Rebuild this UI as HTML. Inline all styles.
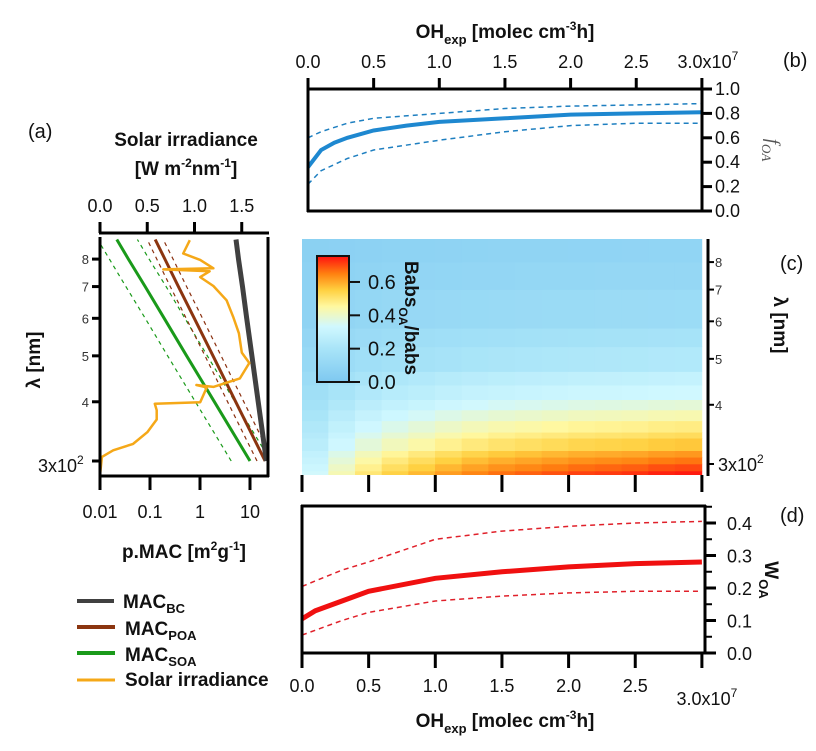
<!DOCTYPE html>
<html><head><meta charset="utf-8">
<style>
html,body{margin:0;padding:0;background:#fff;}
svg{display:block;font-family:"Liberation Sans",Arial,sans-serif;}
</style></head>
<body>
<svg id="fig" width="816" height="751" viewBox="0 0 816 751" xmlns="http://www.w3.org/2000/svg">
<defs>
<linearGradient id="cbgrad" x1="0" y1="1" x2="0" y2="0">
<stop offset="0" stop-color="#7ec8f0"/>
<stop offset="0.26" stop-color="#a8e4f8"/>
<stop offset="0.44" stop-color="#d0f8ff"/>
<stop offset="0.6" stop-color="#fff8a0"/>
<stop offset="0.73" stop-color="#ffd040"/>
<stop offset="0.86" stop-color="#ff8010"/>
<stop offset="1" stop-color="#ff1010"/>
</linearGradient>
</defs>
<g id="gA"></g>
<g id="gB"></g>
<g id="gC"></g>
<g id="gD"></g>
</svg>
<script>
// ---------- Panel (a) data ----------
const lambdaPts = [300,400,500,600,700,800,880];
const macBC = [21.3,14.6,10.9,8.6,7.07,5.9,5.25];
const macPOA = [20,5.18,1.82,0.77,0.37,0.199,0.127];
const macPOAlo = [13.8,3.57,1.26,0.53,0.255,0.137,0.088];
const macPOAhi = [29,7.5,2.64,1.12,0.54,0.29,0.184];
const macSOA = [10,1.94,0.54,0.192,0.080,0.037,0.0217];
const macSOAlo = [4.2,0.81,0.225,0.08,0.033,0.0154,0.009];
const macSOAhi = [26,5.0,1.4,0.5,0.21,0.096,0.056];
const solarLambda = [280,306,316,326,345,367,384,396,399,429,434,430,448,483,508,558,604,655,702,733,754,761,765,797,822,877];
const solarIrr = [0,0.02,0.14,0.35,0.5,0.6,0.6,0.58,1.06,1.13,1.02,1.2,1.48,1.58,1.5,1.47,1.41,1.34,1.2,1.06,1.16,0.67,1.2,1.06,0.88,0.95];
const lamTicks = [300,400,500,600,700,800];
const lamTickLabels = ["","4","5","6","7","8"];
const solarTicks = [0,0.5,1.0,1.5];
const solarTickLabels = ["0.0","0.5","1.0","1.5"];
const macTicks = [0.01,0.1,1,10];
const macTickLabels = ["0.01","0.1","1","10"];
// ---------- Panel (b) data ----------
const ohB = [0,0.1,0.2,0.3,0.5,0.75,1.0,1.5,2.0,2.5,3.0];
const fOA = [0.36,0.5,0.56,0.6,0.66,0.70,0.73,0.76,0.79,0.80,0.81];
const ohBhi = [0,0.1,0.3,0.5,1.0,1.5,2.0,2.5,3.0];
const fOAhi = [0.6,0.65,0.72,0.76,0.8,0.84,0.86,0.87,0.88];
const fOAlo = [0.22,0.33,0.43,0.5,0.58,0.65,0.7,0.72,0.72];
const ohTicks = [0,0.5,1.0,1.5,2.0,2.5,3.0];
const ohTickLabels = ["0.0","0.5","1.0","1.5","2.0","2.5","3.0x10"];
const fTicks = [0,0.2,0.4,0.6,0.8,1.0];
const fTickLabels = ["0.0","0.2","0.4","0.6","0.8","1.0"];
// ---------- Panel (c) data ----------
const heatRowLambda = [280,290,300,310,320,340,350,370,390,410,440,470,530,580,700,800,900];
const heatRowMax = [0.74,0.70,0.66,0.62,0.56,0.52,0.48,0.43,0.38,0.33,0.29,0.23,0.19,0.14,0.11,0.09];
const heatColShape = [0.42,0.55,0.65,0.72,0.77,0.82,0.86,0.89,0.91,0.93,0.95,0.96,0.97,0.99,1.0];
const cbTicks = [0,0.2,0.4,0.6];
const cbTickLabels = ["0.0","0.2","0.4","0.6"];
// ---------- Panel (d) data ----------
const ohD = [0,0.1,0.3,0.5,1.0,1.5,2.0,2.5,3.0];
const wOA = [0.105,0.13,0.16,0.19,0.23,0.25,0.265,0.275,0.28];
const ohDb = [0,0.3,0.5,1.0,1.5,2.0,2.5,3.0];
const wOAhi = [0.205,0.255,0.28,0.35,0.375,0.39,0.40,0.405];
const wOAlo = [0.055,0.10,0.125,0.16,0.175,0.185,0.19,0.19];
const wTicks = [0,0.1,0.2,0.3,0.4];
const wTickLabels = ["0.0","0.1","0.2","0.3","0.4"];

const NS="http://www.w3.org/2000/svg";
function mk(parent,tag,attrs,text){const e=document.createElementNS(NS,tag);for(const k in attrs)e.setAttribute(k,attrs[k]);if(text!==undefined)e.textContent=text;parent.appendChild(e);return e;}
function pathFrom(xs,ys,fx,fy){return xs.map((v,i)=>(i?"L":"M")+fx(v).toFixed(1)+","+fy(ys[i]).toFixed(1)).join("");}

// ===== Panel A =====
const gA=document.getElementById('gA');
const ax=m=>100+50*(Math.log10(m)+2);
const ay=l=>461-474*Math.log10(l/300);
const sx=s=>100+94.5*s;
let clipA=mk(document.querySelector('defs'),'clipPath',{id:'clipA'});mk(clipA,'rect',{x:100,y:237,width:168,height:239});
const ga=mk(gA,'g',{'clip-path':'url(#clipA)'});

function aLine(vals,color,w,dash,name){const p=mk(ga,'path',{d:pathFrom(vals,lambdaPts,ax,ay),fill:'none',stroke:color,'stroke-width':w});if(dash)p.setAttribute('stroke-dasharray',dash);

}
aLine(macSOAlo,'#1a9a1a',1.2,'4,4','soa-lower');
aLine(macSOAhi,'#1a9a1a',1.2,'4,4','soa-upper');
aLine(macPOAlo,'#8b3010',1.2,'4,4','poa-lower');
aLine(macPOAhi,'#8b3010',1.2,'4,4','poa-upper');
aLine(macSOA,'#1a9a1a',3,null,'soa-line');
aLine(macPOA,'#8b3510',3,null,'poa-line');
aLine(macBC,'#404040',5,null,'bc-line');
{const p=mk(ga,'path',{d:pathFrom(solarIrr,solarLambda,sx,ay),fill:'none',stroke:'#f5a818','stroke-width':2.5,'stroke-linejoin':'round'});

}
mk(gA,'line',{x1:100,y1:237,x2:100,y2:477,stroke:'#000','stroke-width':3});
mk(gA,'line',{x1:268,y1:237,x2:268,y2:477,stroke:'#000','stroke-width':3});
mk(gA,'line',{x1:99,y1:476,x2:269,y2:476,stroke:'#000','stroke-width':3});
mk(gA,'line',{x1:99,y1:233,x2:269,y2:233,stroke:'#000','stroke-width':3});
solarTicks.forEach((t,i)=>{mk(gA,'line',{x1:sx(t),y1:222,x2:sx(t),y2:233,stroke:'#000','stroke-width':3});
const tx=mk(gA,'text',{x:sx(t),y:212,'font-size':18,'text-anchor':'middle',fill:'#111'},solarTickLabels[i]);

});
macTicks.forEach((t,i)=>{mk(gA,'line',{x1:ax(t),y1:476,x2:ax(t),y2:490,stroke:'#000','stroke-width':3});
const tx=mk(gA,'text',{x:ax(t),y:518,'font-size':18,'text-anchor':'middle',fill:'#111'},macTickLabels[i]);

});
lamTicks.forEach((t,i)=>{mk(gA,'line',{x1:92,y1:ay(t),x2:100,y2:ay(t),stroke:'#000','stroke-width':3});
if(lamTickLabels[i]){const tx=mk(gA,'text',{x:89,y:ay(t)+5,'font-size':13,'text-anchor':'end',fill:'#333'},lamTickLabels[i]);

}});

// ===== Panel B =====
const gB=document.getElementById('gB');
const bx=o=>308+131.3*o;
const by=f=>211-122*f;
const pb=[[fOAhi,ohBhi,'5,4',1.5,'foa-upper'],[fOAlo,ohBhi,'5,4',1.5,'foa-lower']];
pb.forEach(a=>{const p=mk(gB,'path',{d:pathFrom(a[1],a[0],bx,by),fill:'none',stroke:'#1e7fc0','stroke-width':a[3],'stroke-dasharray':a[2]});

});
{const p=mk(gB,'path',{d:pathFrom(ohB,fOA,bx,by),fill:'none',stroke:'#1e88d0','stroke-width':4});

}
mk(gB,'line',{x1:308,y1:88,x2:308,y2:212,stroke:'#000','stroke-width':3});
mk(gB,'line',{x1:307,y1:211,x2:702,y2:211,stroke:'#000','stroke-width':3});
mk(gB,'line',{x1:307,y1:89,x2:703,y2:89,stroke:'#000','stroke-width':3});
mk(gB,'line',{x1:702,y1:88,x2:702,y2:212,stroke:'#000','stroke-width':3});
ohTicks.forEach((t,i)=>{mk(gB,'line',{x1:bx(t),y1:78,x2:bx(t),y2:89,stroke:'#000','stroke-width':3});
const tx=mk(gB,'text',{x:bx(t),y:68,'font-size':18,'text-anchor':'middle',fill:'#111'},ohTickLabels[i]);


if(i===ohTicks.length-1){tx.setAttribute('x',bx(t)+6);mk(tx,'tspan',{dy:-8,'font-size':12},'7');}});
fTicks.forEach((t,i)=>{mk(gB,'line',{x1:702,y1:by(t),x2:712,y2:by(t),stroke:'#000','stroke-width':3});
const tx=mk(gB,'text',{x:715,y:by(t)+6,'font-size':18,fill:'#111'},fTickLabels[i]);

});

// ===== Panel C =====
const gC=document.getElementById('gC');
const cx=o=>302+133.3*o;
const cy=l=>464-474*Math.log10(l/300);
function cmap(v){const st=[[0,[126,200,240]],[0.2,[168,228,248]],[0.33,[208,248,255]],[0.45,[255,248,160]],[0.55,[255,208,64]],[0.65,[255,128,16]],[0.75,[255,16,16]]];
if(v<=0)return 'rgb(126,200,240)';for(let i=1;i<st.length;i++){if(v<=st[i][0]){const a=st[i-1],b=st[i],f=(v-a[0])/(b[0]-a[0]);return 'rgb('+a[1].map((c,k)=>Math.round(c+(b[1][k]-c)*f)).join(',')+')';}}return 'rgb(255,16,16)';}
let clipC=mk(document.querySelector('defs'),'clipPath',{id:'clipC'});mk(clipC,'rect',{x:302,y:239,width:402,height:236});
const gh=mk(gC,'g',{'clip-path':'url(#clipC)'});

const colW=3.0/heatColShape.length;
heatRowMax.forEach((m,r)=>{const y1=cy(heatRowLambda[r+1]),y0=cy(heatRowLambda[r]);
heatColShape.forEach((s,c)=>{const v=m*s+0.04*(1-s);
const rc=mk(gh,'rect',{x:cx(c*colW)-0.3,y:y1-0.3,width:cx((c+1)*colW)-cx(c*colW)+0.6,height:y0-y1+0.6,fill:cmap(v)});

});});
mk(gC,'line',{x1:708,y1:239,x2:708,y2:476,stroke:'#000','stroke-width':3});
lamTicks.forEach((t,i)=>{mk(gC,'line',{x1:708,y1:cy(t),x2:714,y2:cy(t),stroke:'#000','stroke-width':2});
if(lamTickLabels[i]){const tx=mk(gC,'text',{x:715,y:cy(t)+5,'font-size':13,fill:'#333'},lamTickLabels[i]);

}});
ohTicks.forEach(t=>{mk(gC,'line',{x1:cx(t),y1:475,x2:cx(t),y2:492,stroke:'#000','stroke-width':3});});
const cbY=v=>382-166.7*v;
{const r=mk(gC,'rect',{x:317,y:256,width:32,height:126,fill:'url(#cbgrad)',stroke:'#111','stroke-width':2});

}
cbTicks.forEach((t,i)=>{mk(gC,'line',{x1:349,y1:cbY(t),x2:360,y2:cbY(t),stroke:'#111','stroke-width':2});
const tx=mk(gC,'text',{x:368,y:cbY(t)+7,'font-size':20,fill:'#111'},cbTickLabels[i]);

});

// ===== Panel D =====
const gD=document.getElementById('gD');
const dx=o=>302+133.3*o;
const dy=w=>653-325*w;
[[wOAhi,'upper'],[wOAlo,'lower']].forEach(a=>{const p=mk(gD,'path',{d:pathFrom(ohDb,a[0],dx,dy),fill:'none',stroke:'#e0202a','stroke-width':1.5,'stroke-dasharray':'5,4'});

});
{const p=mk(gD,'path',{d:pathFrom(ohD,wOA,dx,dy),fill:'none',stroke:'#f01010','stroke-width':5});

}
mk(gD,'line',{x1:302,y1:505,x2:302,y2:654,stroke:'#000','stroke-width':3});
mk(gD,'line',{x1:301,y1:506,x2:706,y2:506,stroke:'#000','stroke-width':3});
mk(gD,'line',{x1:301,y1:653,x2:706,y2:653,stroke:'#000','stroke-width':3});
mk(gD,'line',{x1:705,y1:505,x2:705,y2:654,stroke:'#000','stroke-width':3});
ohTicks.forEach((t,i)=>{mk(gD,'line',{x1:dx(t),y1:653,x2:dx(t),y2:668,stroke:'#000','stroke-width':3});
const last=i===ohTicks.length-1;
const tx=mk(gD,'text',{x:last?dx(t)+5:dx(t),y:last?705:692,'font-size':18,'text-anchor':'middle',fill:'#111'},ohTickLabels[i]);


if(last)mk(tx,'tspan',{dy:-8,'font-size':12},'7');});
wTicks.forEach((t,i)=>{mk(gD,'line',{x1:705,y1:dy(t),x2:716,y2:dy(t),stroke:'#000','stroke-width':3});
mk(gD,'line',{x1:705,y1:dy(t+0.05),x2:712,y2:dy(t+0.05),stroke:'#000','stroke-width':2});
const tx=mk(gD,'text',{x:727,y:dy(t)+7,'font-size':18,fill:'#111'},wTickLabels[i]);

});
</script>
<svg width="816" height="751" viewBox="0 0 816 751" style="position:absolute;left:0;top:0" xmlns="http://www.w3.org/2000/svg">
<g font-family="Liberation Sans, Arial, sans-serif" fill="#111">
<text x="28" y="138" font-size="20">(a)</text>
<text x="186" y="146" font-size="19" font-weight="bold" text-anchor="middle">Solar irradiance</text>
<text x="186" y="175" font-size="19" font-weight="bold" text-anchor="middle">[W m<tspan dy="-8" font-size="12">-2</tspan><tspan dy="8">nm</tspan><tspan dy="-8" font-size="12">-1</tspan><tspan dy="8">]</tspan></text>
<text transform="translate(40,360) rotate(-90)" font-size="19" font-weight="bold" text-anchor="middle">λ [nm]</text>
<text x="38" y="472" font-size="18">3x10<tspan dy="-8" font-size="12">2</tspan></text>
<text x="184" y="558" font-size="19" font-weight="bold" text-anchor="middle">p.MAC [m<tspan dy="-8" font-size="12">2</tspan><tspan dy="8">g</tspan><tspan dy="-8" font-size="12">-1</tspan><tspan dy="8">]</tspan></text>
<g>
<line x1="77" y1="601" x2="114" y2="601" stroke="#404040" stroke-width="4"/>
<text x="123" y="608" font-size="19" font-weight="bold">MAC<tspan dy="5" font-size="13">BC</tspan></text>
<line x1="77" y1="627" x2="115" y2="627" stroke="#8b3510" stroke-width="4"/>
<text x="125" y="635" font-size="19" font-weight="bold">MAC<tspan dy="5" font-size="13">POA</tspan></text>
<line x1="77" y1="653" x2="115" y2="653" stroke="#1a9a1a" stroke-width="4"/>
<text x="125" y="661" font-size="19" font-weight="bold">MAC<tspan dy="5" font-size="13">SOA</tspan></text>
<line x1="77" y1="680" x2="115" y2="680" stroke="#f5a818" stroke-width="3"/>
<text x="125" y="686" font-size="19" font-weight="bold">Solar irradiance</text>
</g>
<text x="505" y="38" font-size="19" font-weight="bold" text-anchor="middle">OH<tspan dy="6" font-size="13">exp</tspan><tspan dy="-6"> [molec  cm</tspan><tspan dy="-8" font-size="12">-3</tspan><tspan dy="8">h]</tspan></text>
<text x="783" y="67" font-size="20">(b)</text>
<text transform="translate(767,150) rotate(90)" font-size="19" font-style="italic" font-family="Liberation Serif, serif" fill="#555" text-anchor="middle">f<tspan dy="5" font-size="13">OA</tspan></text>
<text transform="translate(405,318) rotate(90)" font-size="19" font-weight="bold" text-anchor="middle">Babs<tspan dy="6" font-size="12">OA</tspan><tspan dy="-6">/babs</tspan></text>
<text x="780" y="270" font-size="20">(c)</text>
<text transform="translate(774,325) rotate(90)" font-size="19" font-weight="bold" text-anchor="middle">λ [nm]</text>
<text x="718" y="471" font-size="18">3x10<tspan dy="-8" font-size="12">2</tspan></text>
<text x="780" y="522" font-size="20">(d)</text>
<text transform="translate(765,580) rotate(90)" font-size="19" font-weight="bold" text-anchor="middle">W<tspan dy="6" font-size="13">OA</tspan></text>
<text x="505" y="727" font-size="19" font-weight="bold" text-anchor="middle">OH<tspan dy="6" font-size="13">exp</tspan><tspan dy="-6"> [molec  cm</tspan><tspan dy="-8" font-size="12">-3</tspan><tspan dy="8">h]</tspan></text>
</g>
</svg>
</body></html>
